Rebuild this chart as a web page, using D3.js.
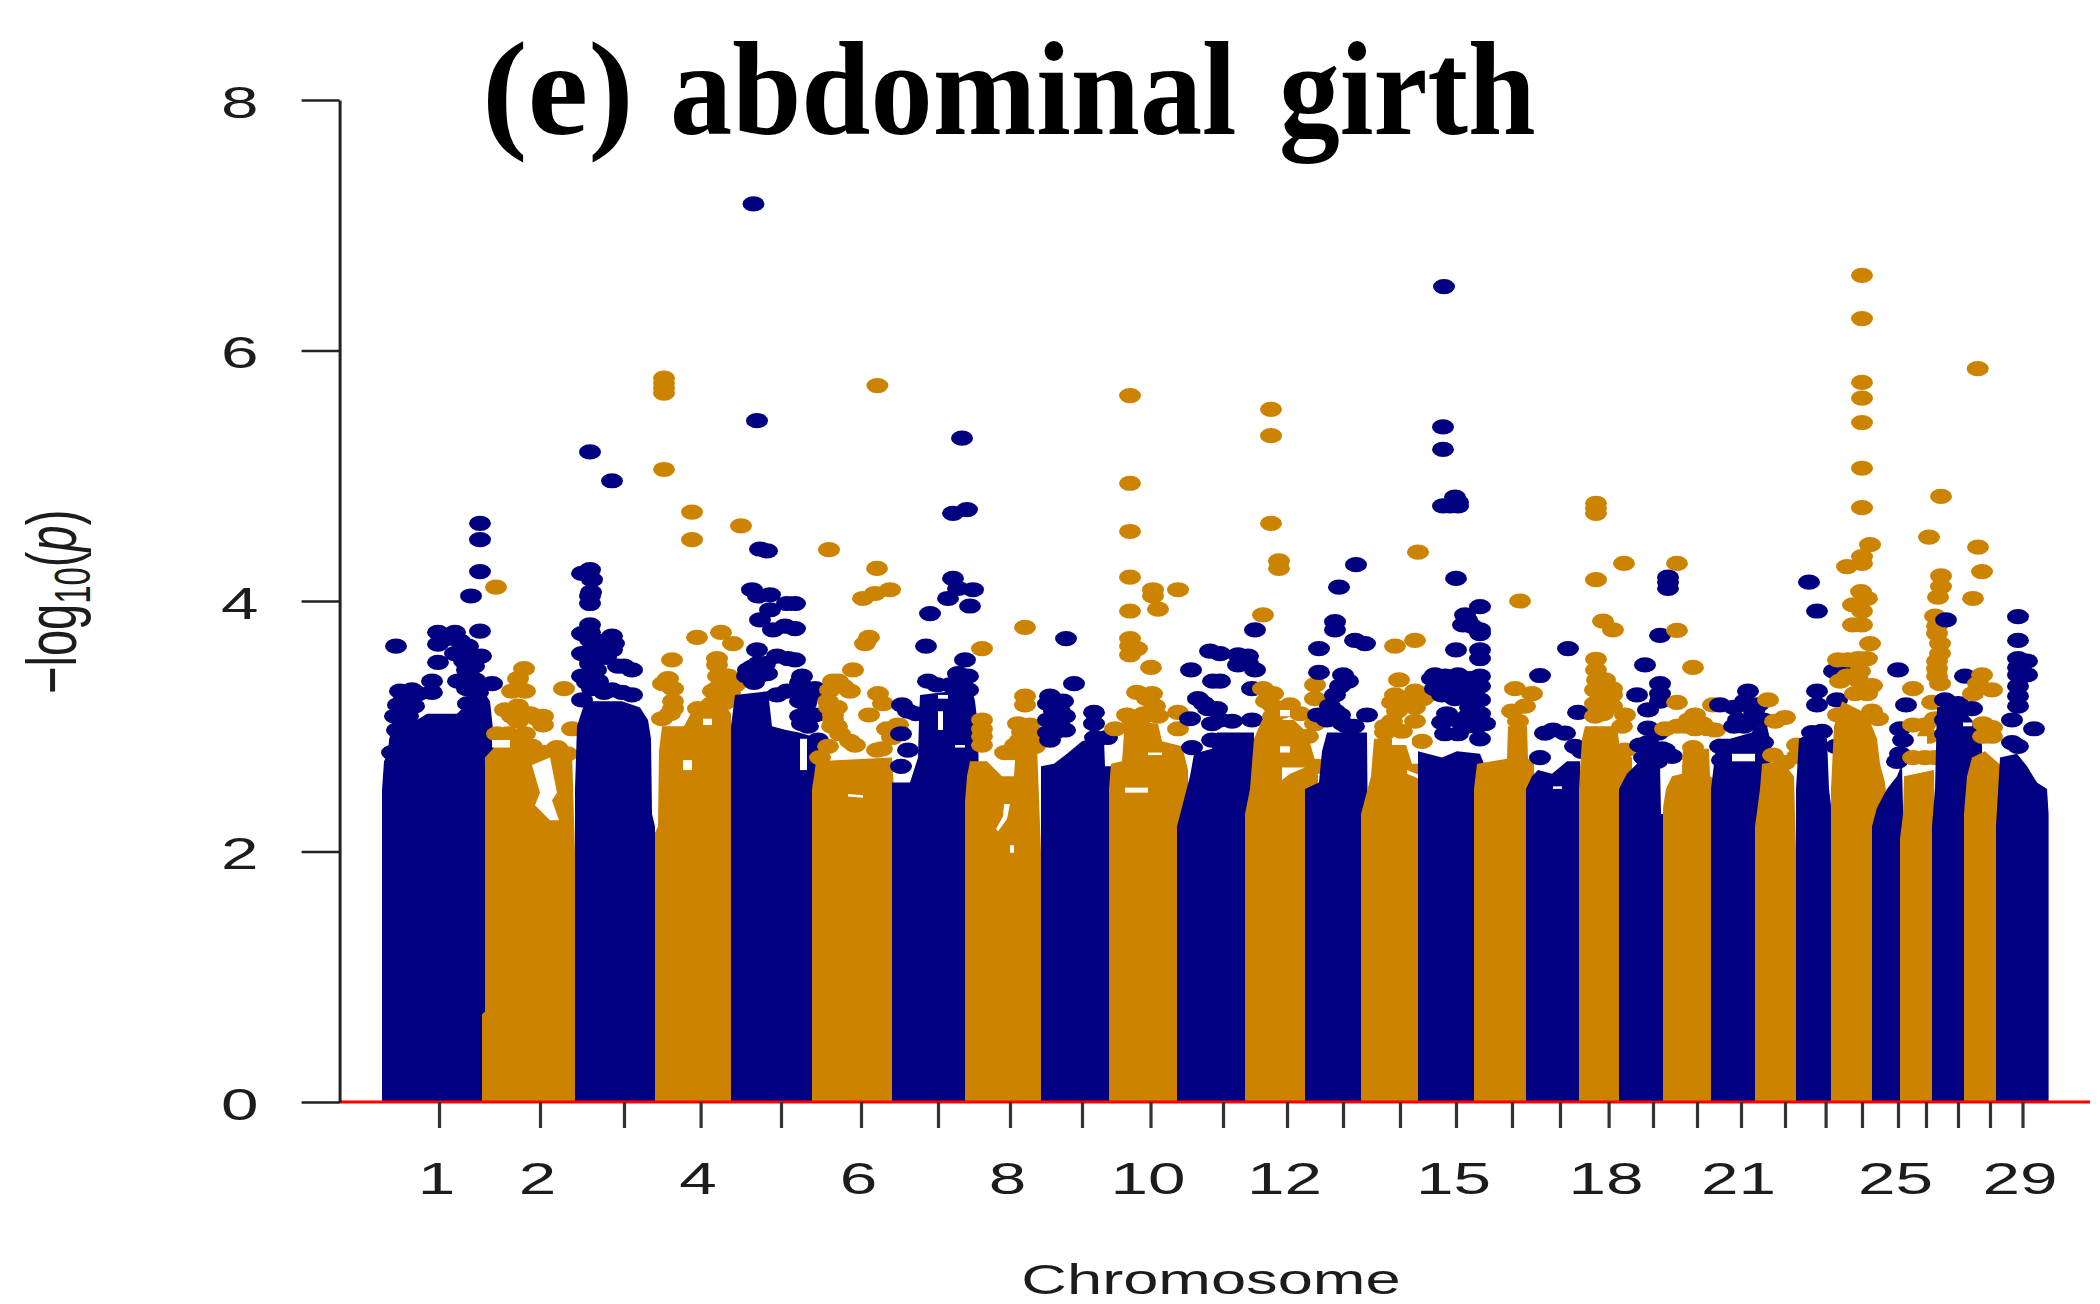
<!DOCTYPE html>
<html>
<head>
<meta charset="utf-8">
<title>abdominal girth</title>
<script src="https://cdn.jsdelivr.net/npm/d3@7"></script>
<style>
  html, body { margin: 0; padding: 0; background: #fff; }
  svg { display: block; }
  text { fill: #1c1c1c; font-family: "Liberation Sans", Arial, sans-serif; }
</style>
</head>
<body>
<svg id="chart" width="2100" height="1304"></svg>
<script>
// genome position runs 0..1666.6 (arbitrary units)
const genomeLength = 1666.6;
const yTicks = [0, 2, 4, 6, 8];
const chromTicks = [57, 158, 242, 318.6, 399, 479, 556, 628, 700, 768.5, 841, 905, 961, 1018, 1074, 1130, 1178, 1226.6, 1271, 1315, 1359, 1403, 1443.6, 1480, 1516, 1544, 1576, 1608, 1640.5];
const labelledChroms = [1, 2, 4, 6, 8, 10, 12, 15, 18, 21, 25, 29];

// top of the solid block of points on each chromosome: [position, -log10(p)]
const ceilings = [
  [[0,2.49],[2,2.72],[6,2.78],[7,2.89],[12,3.05],[18,3.2],[35,3.05],[45,3.1],[75,3.1],[88,3.2],[100,3.3],[108,3.2],[112,2.9]],
  [[100,0.7],[103,0.72],[103,2.75],[120,2.9],[148,2.9],[150,2.82],[178,2.8],[190,2.8],[193,2.0]],
  [[193,2.5],[195,3.0],[203,3.2],[240,3.2],[258,3.15],[266,3.05],[269,2.9],[270,2.3],[273,2.2]],
  [[273,2.15],[276,2.2],[277,2.8],[280,3.0],[302,3.0],[310,3.12],[345,3.15],[349,3.1],[350,2.0]],
  [[349,3.0],[353,3.25],[386,3.28],[390,3.0],[404,2.97],[417,2.95],[438,2.9],[439,2.0]],
  [[430,2.5],[432,2.6],[434,2.72],[510,2.75],[512,2.5]],
  [[510,2.55],[528,2.55],[536,2.75],[537,3.05],[538,3.25],[590,3.3],[593,3.2],[596,3.0],[597,2.5]],
  [[583,2.4],[585,2.6],[588,2.72],[605,2.72],[620,2.6],[632,2.6],[634,2.85],[655,2.85],[659,2.0]],
  [[659,2.68],[672,2.7],[685,2.78],[700,2.88],[717,2.92],[722,2.9],[723,2.68],[735,2.68],[736,2.0]],
  [[727,2.5],[729,2.7],[740,2.72],[743,3.05],[776,3.02],[780,2.88],[800,2.84],[803,2.75],[806,2.65],[807,2.0]],
  [[795,2.2],[808,2.6],[812,2.78],[830,2.82],[835,2.95],[866,2.95],[872,2.95],[873,2.0]],
  [[863,2.3],[868,2.5],[872,2.9],[880,3.05],[912,3.05],[925,2.95],[934,2.7],[936,2.6],[937,2.0]],
  [[923,2.5],[937,2.55],[940,2.8],[945,2.95],[985,2.95],[986,2.0]],
  [[979,2.3],[989,2.6],[992,2.9],[1022,2.9],[1030,2.7],[1040,2.7],[1042,2.0]],
  [[1036,2.8],[1060,2.75],[1075,2.8],[1098,2.78],[1102,2.7],[1103,2.0]],
  [[1092,2.5],[1095,2.7],[1125,2.74],[1126,3.0],[1145,3.0],[1146,2.74],[1152,2.72],[1153,2.0]],
  [[1144,2.5],[1150,2.6],[1156,2.65],[1170,2.62],[1185,2.72],[1198,2.72],[1200,2.0]],
  [[1197,2.5],[1200,2.9],[1203,3.0],[1235,3.0],[1238,2.82],[1250,2.75],[1251,2.0]],
  [[1237,2.5],[1245,2.62],[1255,2.7],[1265,2.95],[1275,2.95],[1278,2.7],[1279,2.3],[1281,2.3]],
  [[1281,2.35],[1284,2.5],[1290,2.6],[1300,2.62],[1301,2.82],[1327,2.82],[1328,2.6],[1332,2.58],[1333,2.0]],
  [[1329,2.5],[1335,2.9],[1348,2.9],[1370,2.95],[1372,3.0],[1385,3.0],[1388,2.9],[1389,2.0]],
  [[1373,2.2],[1378,2.5],[1380,2.7],[1400,2.72],[1412,2.6],[1414,2.0]],
  [[1414,2.5],[1417,2.9],[1435,2.97],[1445,2.9],[1447,2.5],[1450,2.3],[1451,2.0]],
  [[1449,2.5],[1452,3.0],[1460,3.2],[1485,3.1],[1495,2.9],[1498,2.7],[1503,2.55],[1505,2.4],[1506,2.0]],
  [[1490,2.2],[1495,2.35],[1505,2.5],[1515,2.6],[1520,2.7],[1522,2.0]],
  [[1518,2.1],[1521,2.3],[1522,2.6],[1552,2.65],[1553,2.0]],
  [[1550,2.2],[1553,2.5],[1555,3.15],[1575,3.18],[1590,3.05],[1596,2.95],[1600,2.85],[1601,2.0]],
  [[1582,2.3],[1585,2.6],[1590,2.75],[1603,2.8],[1620,2.68],[1621,2.0]],
  [[1614,2.2],[1618,2.75],[1635,2.78],[1645,2.68],[1655,2.55],[1665,2.5],[1666.6,2.3],[1666.6,0]],
];

// individual points above the block, chromosome by chromosome
const peaks = [
  [[98,4.62],[98,4.49],[98,4.235],[89,4.04],[98,3.76],[14,3.64],[56,3.75],[73,3.75],[56,3.655],[86,3.64],[73,3.58],[56,3.51],[99,3.56],[85,3.45],[50,3.36],[76,3.36],[110,3.34],[93,3.37],[50,3.27],[18,3.28],[30,3.29],[16,3.17],[26,3.2],[13,3.08],[26,3.08],[15,2.97],[10,2.79],[86,3.18],[96,3.27],[64,3.7],[78,3.68],[90,3.55],[82,3.52],[92,3.48],[85,3.3],[36,3.26],[22,3.24],[32,3.16]],
  [[114,4.11],[142,3.46],[136,3.38],[140,3.29],[130,3.28],[143,3.28],[182,3.30],[123,3.13],[136,3.16],[161,3.08],[161,3.01],[136,3.04],[190,2.98],[115,2.94],[126,2.94],[143,2.94],[175,2.83],[150,2.84],[156,2.79],[173,2.81],[185,2.78],[148,3.1],[155,3.06],[130,3.08],[162,2.79],[167,2.79]],
  [[208,5.19],[230,4.96],[208,4.25],[210,4.17],[208,4.04],[208,3.98],[209,4.07],[208,3.81],[230,3.72],[208,3.69],[230,3.61],[216,3.61],[208,3.5],[236,3.48],[250,3.45],[230,3.29],[210,3.30],[200,4.22],[200,3.74],[200,3.21],[200,3.58],[200,3.4],[224,3.6],[216,3.68],[208,3.75],[224,3.68],[232,3.66],[216,3.55],[224,3.55],[242,3.48],[205,3.35],[216,3.36],[222,3.27],[240,3.27],[250,3.25],[208,3.6],[214,3.45]],
  [[282,5.05],[282,5.78],[282,5.74],[282,5.70],[282,5.66],[310,4.71],[310,4.49],[359,4.6],[315,3.71],[339,3.75],[351,3.66],[290,3.53],[335,3.54],[335,3.49],[286,3.38],[281,3.34],[291,3.3],[291,3.2],[336,3.4],[346,3.4],[353,3.33],[331,3.28],[343,3.29],[316,3.14],[280,3.06],[343,3.19],[340,3.2],[335,3.3],[291,3.14],[288,3.1],[330,3.18],[348,3.27]],
  [[371.5,7.17],[375,5.44],[378,4.415],[385,4.40],[370,4.09],[376,4.04],[388,4.05],[405,3.98],[388,3.93],[378,3.85],[391,3.77],[403,3.8],[375,3.61],[366,3.45],[376,3.5],[376,3.4],[395,3.56],[406,3.54],[420,3.4],[423,3.29],[433,3.3],[426,3.08],[413,3.98],[413,3.78],[413,3.53],[436,2.89],[420,3.02],[433,3.09],[405,3.28],[395,3.25],[370,3.47],[365,3.4],[380,3.45],[385,3.42],[372,3.35],[383,3.5],[417,3.3],[425,3.25],[435,3.25],[418,3.2],[424,3.18],[418,3.35],[418,3.08],[426,3.0]],
  [[447,4.41],[495,4.26],[508,4.09],[493,4.06],[481,4.02],[487,3.71],[483,3.66],[495.4,5.72],[471,3.45],[451,3.36],[461,3.32],[468,3.28],[448,3.29],[446,3.2],[451,3.09],[451,3.05],[496,3.26],[501,3.18],[487,3.09],[458,2.94],[468,2.88],[473,2.85],[505,2.98],[516,3.01],[510,2.91],[495,2.81],[446,2.84],[438,2.75],[447,3.15],[455,3.15],[450,3.0],[455,3.0],[456,3.36],[500,2.82]],
  [[580,5.3],[571,4.70],[585,4.73],[571,4.18],[591,4.09],[566,4.02],[588,3.96],[576,4.1],[548,3.9],[544,3.64],[583,3.53],[576,3.42],[586,3.4],[586,3.29],[546,3.36],[520,3.17],[526,3.12],[519,2.94],[526,2.81],[519,2.68],[534,3.1],[555,3.33],[568,3.33],[578,3.35]],
  [[600,3.62],[600,3.05],[600,2.98],[600,2.92],[600,2.85],[623,2.79],[643,3.79],[643,3.24],[643,3.17],[636,3.02],[648,3.01],[638,2.89],[650,2.89],[631,2.79],[643,2.79],[653,2.84],[640,2.95],[650,2.95],[633,2.85],[645,2.85]],
  [[684,3.7],[692,3.34],[668,3.24],[681,3.2],[666,3.18],[666,3.05],[683,3.08],[668,2.89],[683,2.97],[712,3.11],[712,3.02],[725,2.91],[713,2.91],[666,2.95],[672,3.0],[678,3.0],[672,3.12],[678,3.12],[672,2.95]],
  [[748,5.64],[748,4.94],[748,4.555],[748,4.19],[748,3.92],[771,4.09],[771,4.04],[776,3.935],[796,4.09],[748,3.70],[748,3.64],[748,3.57],[755,3.62],[769,3.47],[755,3.27],[770,3.26],[773,3.16],[745,3.09],[733,2.98],[796,3.11],[796,2.98],[762,3.1],[765,3.22],[770,3.12],[750,3.05],[760,3.07],[776,3.08]],
  [[828,3.6],[809,3.45],[831,3.36],[816,3.22],[826,3.14],[808,3.06],[830,3.02],[830,2.89],[810,2.83],[838,3.58],[856,3.57],[866,3.56],[856,3.49],[873,3.45],[838,3.36],[870,3.3],[835,3.14],[838,3.05],[850,3.04],[870,3.05],[873,3.77],[866,3.5],[822,3.18]],
  [[889,5.53],[889,5.32],[889,4.62],[897,4.32],[897,4.26],[881,3.89],[881,3.3],[891,3.26],[891,3.16],[891,3.08],[908,3.17],[918,3.1],[933,3.33],[933,3.22],[933,3.02],[926,2.92],[935,2.68],[884,3.2],[900,3.12]],
  [[974,4.29],[957,4.11],[953,3.835],[953,3.77],[973,3.685],[983,3.66],[937,3.62],[937,3.43],[961,3.41],[966,3.36],[958,3.32],[953,3.25],[948,3.16],[936,3.09],[958,3.09],[985,3.09],[961,3.02],[945,3.05],[953,3.12],[965,3.0],[972,3.0]],
  [[1036,4.39],[1013,3.64],[1033,3.685],[1017,3.37],[1013,3.25],[1010,3.19],[1033,3.28],[1041,3.22],[1010,3.04],[1033,3.04],[1040,2.88],[1003,2.95],[1045,3.25],[1020,2.96],[1033,3.15],[1015,3.12],[1003,3.0],[1025,3.22]],
  [[1062,6.51],[1061,5.39],[1061,5.21],[1073,4.83],[1076,4.79],[1061,4.76],[1068,4.76],[1076,4.76],[1074,4.18],[1098,3.955],[1083,3.89],[1081,3.81],[1098,3.77],[1098,3.74],[1074,3.61],[1098,3.61],[1098,3.54],[1076,3.41],[1053,3.41],[1063,3.4],[1098,3.4],[1063,3.32],[1073,3.22],[1098,3.32],[1098,3.21],[1065,3.1],[1076,3.32],[1103,3.02],[1098,3.1],[1086,3.08],[1063,2.94],[1098,2.9],[1076,2.94],[1088,3.38],[1088,3.28],[1053,3.3],[1060,3.25],[1070,3.3],[1085,3.25],[1088,3.15],[1075,3.05],[1085,3.0],[1095,3.0],[1060,3.03],[1090,3.8],[1085,3.85],[1050,3.38]],
  [[1138,4.0],[1133,3.3],[1150,3.26],[1143,3.16],[1130,3.12],[1136,3.04]],
  [[1158,3.405],[1186,3.62],[1196,3.11],[1163,2.945],[1171,2.97],[1183,2.945],[1193,2.84],[1200,2.8],[1158,2.75]],
  [[1214,4.78],[1214,4.74],[1214,4.70],[1242,4.30],[1214,4.17],[1221,3.84],[1231,3.77],[1214,3.535],[1214,3.45],[1223,3.37],[1213,3.29],[1230,3.25],[1243,3.09],[1230,3.16],[1213,3.08],[1243,2.81],[1218,3.25],[1225,3.2],[1213,3.18],[1221,3.1],[1240,3.0],[1215,3.37],[1230,3.3]],
  [[1286,4.19],[1286,4.15],[1286,4.1],[1278,3.725],[1263,3.49],[1255,3.25],[1278,3.34],[1278,3.26],[1278,3.2],[1266,3.13],[1266,2.985],[1276,2.945],[1283,2.81],[1290,2.76],[1266,2.87],[1258,2.85],[1270,2.8],[1280,2.82],[1262,2.75],[1275,2.72]],
  [[1295,4.3],[1295,3.765],[1311,3.47],[1295,3.19],[1331,3.17],[1313,3.09],[1283,2.98],[1303,3.0],[1313,2.98],[1326,2.98],[1333,2.97],[1311,2.83],[1311,2.75],[1311,2.68],[1295,3.0],[1320,3.02],[1307,3.05]],
  [[1366,3.28],[1338,3.17],[1363,3.2],[1376,3.17],[1356,3.05],[1370,3.05],[1381,3.05],[1381,2.87],[1338,2.84],[1340,2.73],[1352,3.0],[1362,3.0],[1372,3.12],[1352,3.15]],
  [[1386,3.21],[1403,3.07],[1393,3.04],[1391,2.77],[1403,2.71],[1415,2.85],[1415,2.76]],
  [[1427,4.15],[1435,3.92],[1435,3.28],[1435,3.17],[1455,3.21],[1430,2.95],[1440,2.96],[1454,2.84],[1452,3.44],[1460,3.44]],
  [[1480,6.6],[1480,6.255],[1480,5.745],[1480,5.62],[1480,5.425],[1480,5.06],[1480,4.745],[1488,4.45],[1480,4.355],[1480,4.3],[1465,4.275],[1479,4.075],[1485,4.02],[1471,3.97],[1480,3.92],[1480,3.81],[1471,3.81],[1488,3.66],[1485,3.54],[1466,3.53],[1478,3.44],[1476,3.37],[1490,3.325],[1473,3.26],[1485,3.26],[1490,3.12],[1496,3.06],[1456,3.53],[1458,3.36],[1456,3.09],[1476,3.54],[1465,3.4]],
  [[1516,3.45],[1524,3.17],[1518,2.98],[1521,2.89],[1518,2.78],[1515,2.72]],
  [[1559,4.835],[1547,4.51],[1559,4.2],[1559,4.115],[1556,4.03],[1553,3.88],[1555,3.74],[1558,3.66],[1558,3.58],[1555,3.46],[1558,3.34],[1531,3.3],[1550,3.19],[1531,3.01],[1543,3.01],[1553,3.06],[1546,2.92],[1531,2.75],[1543,2.75],[1553,2.75],[1555,3.8],[1555,3.52],[1555,3.4]],
  [[1564,3.85],[1583,3.4],[1563,3.21],[1576,3.18],[1590,3.14],[1563,3.05],[1576,3.05],[1563,2.94]],
  [[1595.7,5.855],[1596,4.43],[1600,4.235],[1591,4.02],[1600,3.41],[1610,3.29],[1596,3.34],[1591,3.26],[1601,3.02],[1610,2.99],[1601,2.92],[1610,2.92]],
  [[1636,3.875],[1636,3.685],[1636,3.54],[1645,3.52],[1636,3.47],[1645,3.41],[1636,3.41],[1636,3.32],[1636,3.24],[1636,3.16],[1630,3.05],[1652,2.98],[1630,2.87],[1636,2.84]],
];

// places inside a block where no point falls: chromosome, outline
const gaps = [
  [2, [[150,2.69],[168,2.75],[175,2.47],[170,2.41],[177,2.25],[168,2.25],[153,2.37],[158,2.47]]],
  [2, [[110,2.89],[128,2.89],[128,2.83],[110,2.83]]],
  [4, [[301,2.73],[310,2.73],[310,2.65],[301,2.65]]],
  [4, [[321,3.06],[330,3.06],[330,3.01],[321,3.01]]],
  [5, [[418,2.9],[425,2.9],[425,2.65],[418,2.65]]],
  [6, [[466,2.46],[481,2.45],[481,2.43],[466,2.44]]],
  [7, [[556,3.12],[561,3.12],[561,2.97],[556,2.97]]],
  [7, [[556,3.25],[566,3.25],[566,3.22],[556,3.22]]],
  [7, [[573,2.85],[583,2.85],[583,2.83],[573,2.83]]],
  [8, [[622,2.38],[628,2.38],[625,2.26],[616,2.16],[614,2.18],[621,2.28]]],
  [8, [[628,2.05],[632,2.05],[632,1.99],[628,1.99]]],
  [10, [[743,2.51],[766,2.51],[766,2.47],[743,2.47]]],
  [10, [[766,2.79],[780,2.79],[780,2.77],[766,2.77]]],
  [12, [[898,3.13],[908,3.13],[908,3.08],[898,3.08]]],
  [12, [[898,2.84],[908,2.84],[908,2.79],[898,2.79]]],
  [12, [[900,2.67],[923,2.67],[908,2.62],[900,2.57]]],
  [14, [[1010,2.9],[1030,2.9],[1030,2.85],[1010,2.85]]],
  [14, [[1025,2.65],[1040,2.6],[1040,2.57],[1025,2.62]]],
  [17, [[1171,2.52],[1180,2.52],[1180,2.5],[1171,2.5]]],
  [21, [[1350,2.78],[1373,2.78],[1373,2.72],[1350,2.72]]],
  [26, [[1535,2.92],[1545,2.92],[1545,2.81],[1535,2.81]]],
  [27, [[1581,3.03],[1590,3.03],[1590,3.0],[1581,3.0]]],
];

const navy = '#000080';
const gold = '#cb8300';
const ink = '#222';

const svg = d3.select('#chart');
const x = d3.scaleLinear().domain([0, genomeLength]).range([382, 2048.6]);
const y = d3.scaleLinear().domain([0, 8]).range([1102, 100]);

const block = d3.area().x(d => x(d[0])).y0(y(0)).y1(d => y(d[1]));
const outline = d3.line().x(d => x(d[0])).y(d => y(d[1]));

// R plots chromosome after chromosome, so later ones sit on top
ceilings.forEach((ceiling, i) => {
  const colour = i % 2 === 0 ? navy : gold;
  const g = svg.append('g');
  g.append('path').attr('d', block(ceiling)).attr('fill', colour);
  g.selectAll('ellipse').data(peaks[i]).join('ellipse')
    .attr('cx', d => x(d[0])).attr('cy', d => y(d[1]))
    .attr('rx', 11).attr('ry', 7.6)
    .attr('fill', colour);
  g.selectAll('path.gap').data(gaps.filter(d => d[0] === i + 1)).join('path')
    .attr('class', 'gap')
    .attr('d', d => outline(d[1]) + 'Z')
    .attr('fill', '#fff');
});

// the red zero line runs past the data on both sides
svg.append('line').attr('x1', 339).attr('x2', 2090).attr('y1', y(0)).attr('y2', y(0)).attr('stroke', '#ff0000').attr('stroke-width', 3);

// y axis
const yAxis = svg.append('g').attr('transform', 'translate(339.6,0)')
  .call(d3.axisLeft(y).tickValues(yTicks).tickSize(38).tickSizeOuter(0).tickFormat(d3.format('d')));
yAxis.select('.domain').attr('stroke', ink).attr('stroke-width', 3);
yAxis.selectAll('line').attr('stroke', ink).attr('stroke-width', 2.4);
yAxis.selectAll('text')
  .attr('x', -54).attr('dy', '0.38em')
  .attr('transform', 'scale(1.5,1)')
  .attr('font-size', 45).style('font-family', '"Liberation Sans", Arial, sans-serif').style('fill', '#1c1c1c');

// x axis, ticks on every chromosome but only some labelled
const xAxis = svg.append('g').attr('transform', `translate(0,${y(0)})`)
  .call(d3.axisBottom(x).tickValues(chromTicks).tickSize(26).tickSizeOuter(0)
    .tickFormat((d, i) => labelledChroms.includes(i + 1) ? i + 1 : ''));
xAxis.select('.domain').remove();
xAxis.selectAll('line').attr('stroke', '#333').attr('stroke-width', 3.2);
xAxis.selectAll('text')
  .attr('y', 0).attr('dy', 0)
  .attr('transform', 'translate(-3,92) scale(1.5,1)')
  .attr('font-size', 45).style('font-family', '"Liberation Sans", Arial, sans-serif').style('fill', '#1c1c1c');

svg.append('text')
  .attr('transform', 'translate(1211,1294) scale(1.47,1)')
  .attr('text-anchor', 'middle').attr('font-size', 43)
  .text('Chromosome');

// rotated axis title, stretched the same way as the rest of the picture
const yTitle = svg.append('text')
  .attr('transform', 'translate(76,694) scale(1.5,1) rotate(-90)')
  .attr('font-size', 47);
yTitle.append('tspan').text('\u2212log');
yTitle.append('tspan').attr('font-size', 33).attr('dy', 9).text('10');
yTitle.append('tspan').attr('dy', -9).text('(');
yTitle.append('tspan').attr('font-style', 'italic').text('p');
yTitle.append('tspan').text(')');

// the three title words are squeezed by different amounts in the original
[['(e)', 482, 1.02], ['abdominal', 670, 0.928], ['girth', 1279, 0.907]].forEach(([word, left, squeeze]) => {
  svg.append('text')
    .attr('transform', `translate(${left},134) scale(${squeeze},1)`)
    .style('font-family', '"Liberation Serif", "Times New Roman", serif')
    .attr('font-weight', 'bold').attr('font-size', 134)
    .style('fill', '#000')
    .text(word);
});
</script>
</body>
</html>
